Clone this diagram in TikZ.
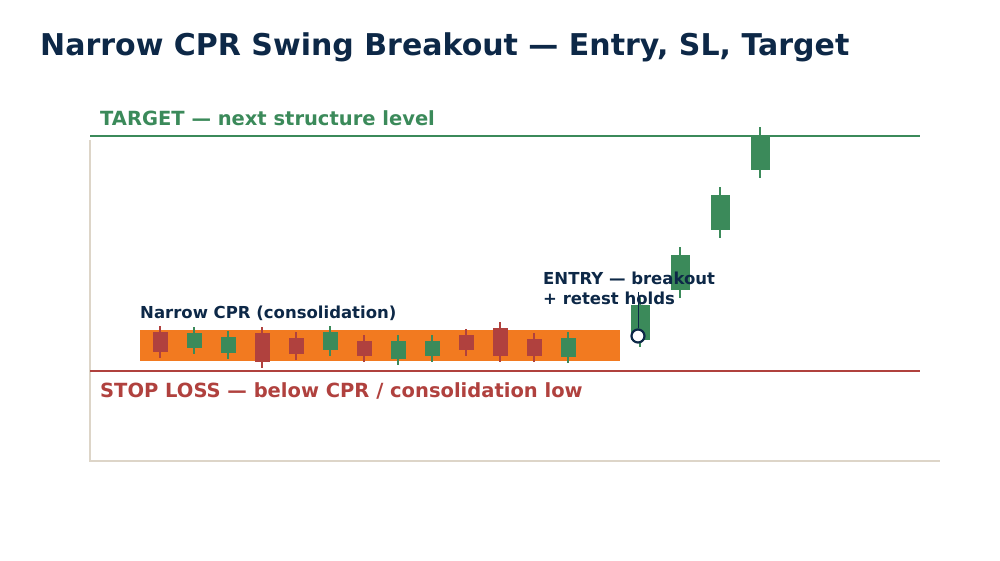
\documentclass[tikz,border=0pt]{standalone}
\usepackage{fontspec}
\setmainfont{DejaVu Sans}
\begin{document}
\begin{tikzpicture}[x=1pt,y=-1pt,
 wk/.style={line width=1.5pt},
 lbl/.style={anchor=west,font=\bfseries,inner sep=0pt}]
\definecolor{navy}{HTML}{0D2847}
\definecolor{cgreen}{HTML}{3B8A5A}
\definecolor{cred}{HTML}{B0413E}
\definecolor{corange}{HTML}{F27A20}
\definecolor{frame}{HTML}{DDD5C8}
\useasboundingbox (0,0) rectangle (1000,560);
\node[lbl,text=navy,font=\bfseries\fontsize{30}{36}\selectfont] (title) at (40,47) {Narrow CPR Swing Breakout — Entry, SL, Target};
\draw[frame,line width=1.2pt] (90,140) -- (90,461) -- (940,461);
\fill[corange] (140,330) rectangle (620,361);
% candles: colour, center, halfwidth, bodytop, bodybottom, wicktop, wickbottom
\newcommand\cd[7]{\draw[wk,#1] (#2,#6) -- (#2,#7); \fill[#1] (#2-#3,#4) rectangle (#2+#3,#5);}
\cd{cred}{160}{7.5}{332}{352}{326}{358}
\cd{cgreen}{194}{7.5}{333}{348}{327}{354}
\cd{cgreen}{228}{7.5}{337}{353}{331}{359}
\cd{cred}{262}{7.5}{333}{362}{327}{368}
\cd{cred}{296}{7.5}{338}{354}{332}{360}
\cd{cgreen}{330}{7.5}{332}{350}{326}{356}
\cd{cred}{364}{7.5}{341}{356}{335}{362}
\cd{cgreen}{398}{7.5}{341}{359}{335}{365}
\cd{cgreen}{432}{7.5}{341}{356}{335}{362}
\cd{cred}{466}{7.5}{335}{350}{329}{356}
\cd{cred}{500}{7.5}{328}{356}{322}{362}
\cd{cred}{534}{7.5}{339}{356}{333}{362}
\cd{cgreen}{568}{7.5}{338}{357}{332}{363}
\cd{cgreen}{640}{9.5}{305}{340}{298}{347}
\cd{cgreen}{680}{9.5}{255}{290}{247}{298}
\cd{cgreen}{720}{9.5}{195}{230}{187}{238}
\cd{cgreen}{760}{9.5}{136}{170}{127}{178}
\draw[cgreen,line width=1.5pt] (90,136) -- (920,136);
\draw[cred,line width=1.5pt] (90,371) -- (920,371);
\node[lbl,text=cgreen,font=\bfseries\fontsize{19.5}{23}\selectfont] (tgt) at (100,118) {TARGET — next structure level};
\node[lbl,text=cred,font=\bfseries\fontsize{19.5}{23}\selectfont] (sl) at (100,391) {STOP LOSS — below CPR / consolidation low};
\node[lbl,text=navy,font=\bfseries\fontsize{16.5}{20}\selectfont] (cpr) at (140,313) {Narrow CPR (consolidation)};
\node[lbl,text=navy,font=\bfseries\fontsize{16.5}{20}\selectfont,align=left,anchor=north west] (entry) at (543,272) {ENTRY — breakout\\+ retest holds};
\coordinate (et) at (638,292);
\node[circle,draw=navy,line width=2.2pt,fill=white,minimum size=13pt,inner sep=0pt] (ec) at (638,336) {};
\draw[navy,line width=1pt] (ec.north) -- (et);
\end{tikzpicture}
\end{document}
